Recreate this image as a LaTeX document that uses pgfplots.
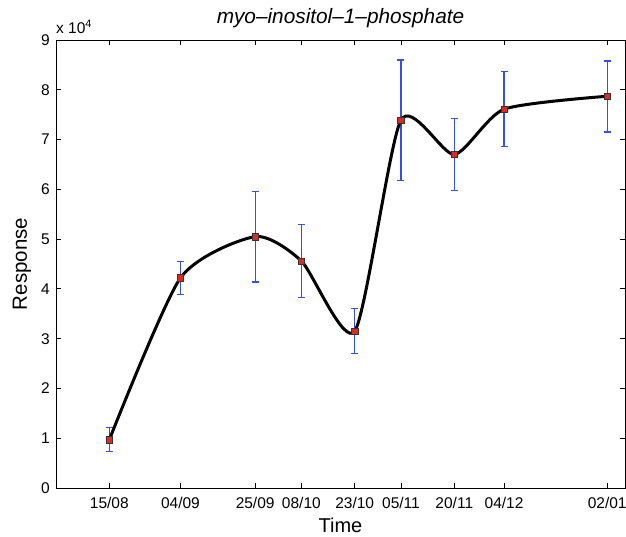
\documentclass[border=0pt]{standalone}
\usepackage{pgfplots}
\pgfplotsset{compat=1.18}
\usepackage{pgfplotstable}
\usepackage{fontspec}
\setmainfont{Liberation Sans}
\definecolor{ebblue}{rgb}{0.20,0.32,0.85}
\definecolor{mkred}{rgb}{0.88,0.16,0.12}
\pgfplotstableread{
x y ep em
0 9700 2400 2400
20 42200 3300 3400
41 50500 9000 9100
54 45600 7300 7300
69 31500 4600 4400
82 73900 12100 12200
97 67000 7300 7200
111 76100 7500 7500
140 78700 7100 7200
}\datatab
\begin{document}
\begin{tikzpicture}
\begin{axis}[
  scale only axis,
  width=569bp, height=448bp,
  xmin=-15, xmax=145, ymin=0, ymax=90000,
  xtick={0,20,41,54,69,82,97,111,140},
  xticklabels={15/08,04/09,25/09,08/10,23/10,05/11,20/11,04/12,02/01},
  ytick={0,10000,20000,30000,40000,50000,60000,70000,80000,90000},
  yticklabels={0,1,2,3,4,5,6,7,8,9},
  scaled y ticks=false,
  tick align=inside,
  major tick length=5bp,
  axis line style={line width=0.9bp},
  every tick/.style={black, line width=0.8bp},
  /pgf/number format/assume math mode=true,
  tick label style={font=\fontsize{15.5bp}{18bp}\selectfont},
  xticklabel style={anchor=base, inner sep=0pt, yshift=-20bp},
  yticklabel style={anchor=east, inner sep=0pt, xshift=-6bp},
  xlabel={Time},
  ylabel={Response},
  xlabel style={font=\fontsize{20bp}{23bp}\selectfont, at={(rel axis cs:0.5,-0.1004)}, anchor=base, inner sep=0pt},
  ylabel style={font=\fontsize{20.5bp}{23bp}\selectfont, at={(rel axis cs:-0.051,0.5)}, anchor=base, inner sep=0pt},
  title={myo--inositol--1--phosphate},
  title style={font=\fontsize{20.8bp}{23bp}\selectfont\itshape, at={(rel axis cs:0.5,1.0246)}, anchor=base, inner sep=0pt},
  clip=false,
]
\addplot[color=ebblue, only marks, mark=none, forget plot,
  error bars/.cd, y dir=both, y explicit,
  error bar style={color=ebblue, line width=1.2bp},
  error mark options={color=ebblue, line width=1.2bp, mark size=3.5bp, rotate=90}]
  table[x=x, y=y, y error plus=ep, y error minus=em] {\datatab};
\addplot[black, line width=3bp, smooth, tension=0.4, mark=none] table[x=x, y=y] {\datatab};
\addplot[only marks, mark=square*, mark size=3.2bp, mark options={fill=mkred, draw=black!80, line width=0.6bp}] table[x=x, y=y] {\datatab};
\node[anchor=base west, inner sep=0pt, font=\fontsize{15.5bp}{18bp}\selectfont] at (rel axis cs:0,1.0156) {x 10\textsuperscript{4}};
\end{axis}
\pgfresetboundingbox
\useasboundingbox (-56bp,-49bp) rectangle (570bp,488bp);
\end{tikzpicture}
\end{document}
